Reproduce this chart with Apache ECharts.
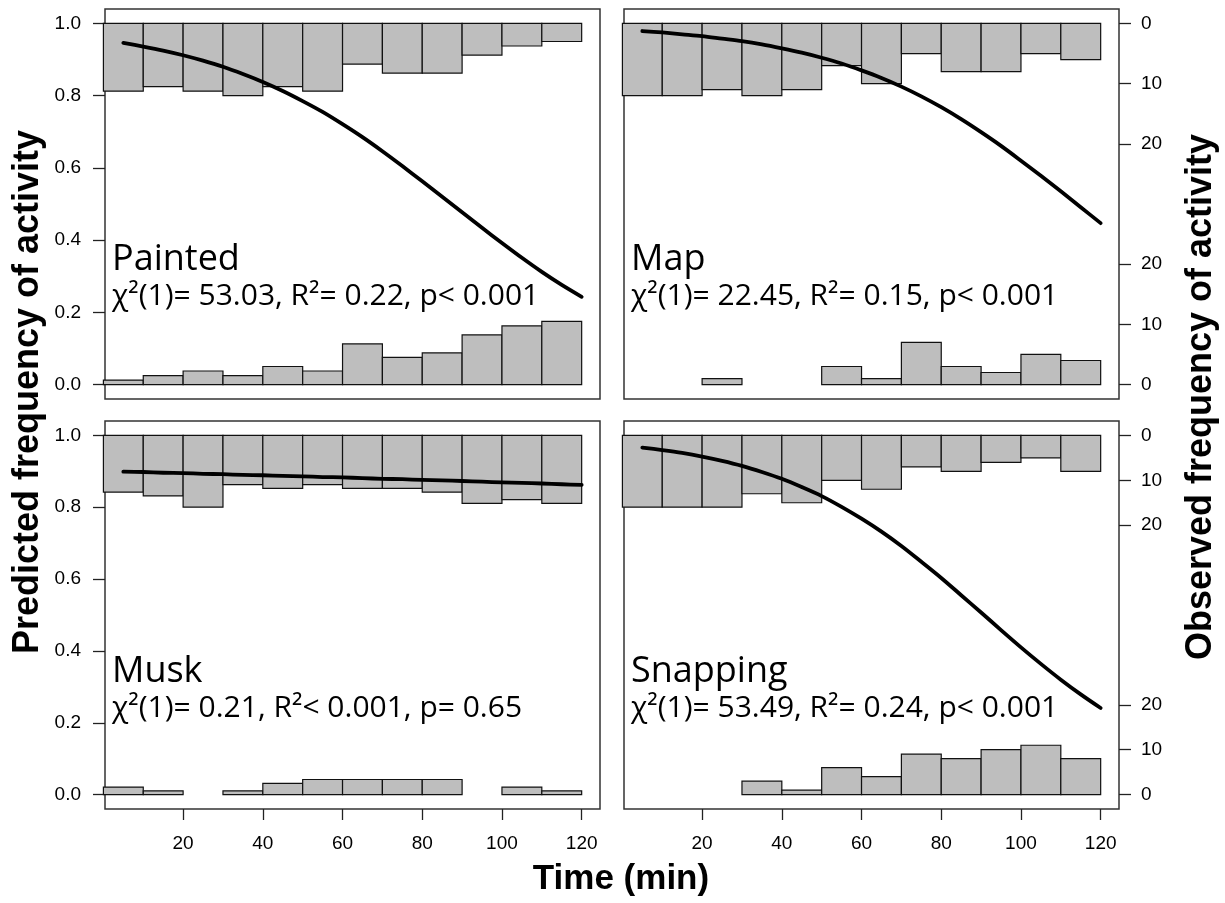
<!DOCTYPE html>
<html><head><meta charset="utf-8">
<script src="https://cdn.jsdelivr.net/npm/echarts@6/dist/echarts.min.js"></script>
<style>html,body{margin:0;padding:0;background:#fff}#chart{width:1225px;height:903px}</style>
</head><body><div id="chart"></div>
<script>
// ---------- data ----------
const binEdges = [0, 10, 20, 30, 40, 50, 60, 70, 80, 90, 100, 110, 120];
const curveTimes = [5, 10, 15, 20, 25, 30, 35, 40, 45, 50, 55, 60, 65, 70, 75, 80, 85, 90, 95, 100, 105, 110, 115, 120];
const probTicks = [0, 0.2, 0.4, 0.6, 0.8, 1.0];
const timeTicks = [20, 40, 60, 80, 100, 120];
const countTicks = [0, 10, 20];

const panelNames = ['Painted', 'Map', 'Musk', 'Snapping'];
const panelStats = [
  'χ²(1)= 53.03, R²= 0.22, p< 0.001',
  'χ²(1)= 22.45, R²= 0.15, p< 0.001',
  'χ²(1)= 0.21, R²< 0.001, p= 0.65',
  'χ²(1)= 53.49, R²= 0.24, p< 0.001'
];

// observed counts per 10-min bin: active (hanging from 1.0) and inactive (rising from 0.0)
const paintedActive   = [15, 14, 15, 16, 14, 15, 9, 11, 11, 7, 5, 4];
const paintedInactive = [1, 2, 3, 2, 4, 3, 9, 6, 7, 11, 13, 14];
const mapActive       = [12, 12, 11, 12, 11, 7, 10, 5, 8, 8, 5, 6];
const mapInactive     = [0, 0, 1, 0, 0, 3, 1, 7, 3, 2, 5, 4];
const muskActive      = [15, 16, 19, 13, 14, 13, 14, 14, 15, 18, 17, 18];
const muskInactive    = [2, 1, 0, 1, 3, 4, 4, 4, 4, 0, 2, 1];
const snappingActive  = [16, 16, 16, 13, 15, 10, 12, 7, 8, 6, 5, 8];
const snappingInactive= [0, 0, 0, 3, 1, 6, 4, 9, 8, 10, 11, 8];

// predicted frequency of activity
const paintedPred  = [0.946, 0.936, 0.925, 0.912, 0.897, 0.880, 0.860, 0.838, 0.813, 0.785, 0.755, 0.721, 0.685, 0.646, 0.605, 0.563, 0.520, 0.477, 0.434, 0.392, 0.351, 0.312, 0.276, 0.243];
const mapPred      = [0.979, 0.975, 0.970, 0.965, 0.958, 0.951, 0.942, 0.931, 0.919, 0.905, 0.889, 0.870, 0.849, 0.825, 0.798, 0.768, 0.735, 0.699, 0.661, 0.620, 0.578, 0.535, 0.491, 0.447];
const muskPred     = [0.899, 0.898, 0.896, 0.895, 0.893, 0.892, 0.890, 0.889, 0.887, 0.886, 0.884, 0.883, 0.881, 0.879, 0.878, 0.876, 0.875, 0.873, 0.871, 0.869, 0.868, 0.866, 0.864, 0.862];
const snappingPred = [0.966, 0.959, 0.951, 0.941, 0.929, 0.915, 0.898, 0.879, 0.856, 0.831, 0.801, 0.768, 0.732, 0.692, 0.648, 0.603, 0.555, 0.507, 0.458, 0.410, 0.364, 0.320, 0.279, 0.241];

// ---------- layout / style ----------
const panels = [
  { left: 105, top: 9,   width: 495, height: 390, active: paintedActive,  inactive: paintedInactive,  pred: paintedPred,  leftAxis: true,  rightAxis: false, bottomAxis: false },
  { left: 624, top: 9,   width: 495, height: 390, active: mapActive,      inactive: mapInactive,      pred: mapPred,      leftAxis: false, rightAxis: true,  bottomAxis: false },
  { left: 105, top: 421, width: 495, height: 388, active: muskActive,     inactive: muskInactive,     pred: muskPred,     leftAxis: true,  rightAxis: false, bottomAxis: true },
  { left: 624, top: 421, width: 495, height: 388, active: snappingActive, inactive: snappingInactive, pred: snappingPred, leftAxis: false, rightAxis: true,  bottomAxis: true }
];
const SCALE_HIST = 5;
const PAD = 0.04;
const FONT_AXIS = "'Liberation Sans', Arial, sans-serif";
const FONT_TXT = "'Open Sans', 'Noto Sans', sans-serif";

const grid = [], xAxis = [], yAxis = [], series = [], graphic = [];

function histSeries(xi, yi, counts) {
  return {
    type: 'custom', xAxisIndex: xi, yAxisIndex: yi, clip: false, silent: true, z: 2,
    data: counts.map((c, j) => [binEdges[j], binEdges[j + 1], c]),
    encode: { x: [0, 1], y: 2 },
    renderItem: function (params, api) {
      const c = api.value(2);
      if (!(c > 0)) return { type: 'group', children: [] };
      const a = api.coord([api.value(0), 0]);
      const b = api.coord([api.value(1), c]);
      return {
        type: 'rect',
        shape: { x: Math.min(a[0], b[0]), y: Math.min(a[1], b[1]), width: Math.abs(b[0] - a[0]), height: Math.abs(b[1] - a[1]) },
        style: { fill: '#bebebe', stroke: '#111', lineWidth: 1.2 }
      };
    }
  };
}

panels.forEach((p, i) => {
  grid.push({ left: p.left, top: p.top, width: p.width, height: p.height, show: true, borderColor: '#333', borderWidth: 1.5, backgroundColor: 'transparent' });
  xAxis.push({
    type: 'value', gridIndex: i, min: 0.4, max: 124.6, position: 'bottom', show: p.bottomAxis,
    axisLine: { show: false, onZero: false }, splitLine: { show: false },
    axisTick: { show: true, customValues: timeTicks, length: 11, lineStyle: { color: '#222', width: 1.3 } },
    axisLabel: { show: true, customValues: timeTicks, margin: 25, fontSize: 19, color: '#000', fontFamily: FONT_AXIS }
  });
  const tope = Math.max(...p.active, ...p.inactive);
  const cmin = -PAD * tope * SCALE_HIST, cmax = (1 + PAD) * tope * SCALE_HIST;
  const probIdx = yAxis.length;
  yAxis.push({
    type: 'value', gridIndex: i, min: -PAD, max: 1 + PAD, position: 'left', show: p.leftAxis,
    axisLine: { show: false, onZero: false }, splitLine: { show: false },
    axisTick: { show: true, customValues: probTicks, length: 12, lineStyle: { color: '#222', width: 1.3 } },
    axisLabel: { show: true, customValues: probTicks, margin: 24, fontSize: 19, color: '#000', fontFamily: FONT_AXIS, formatter: v => v.toFixed(1) }
  });
  const actIdx = yAxis.length;
  yAxis.push({
    type: 'value', gridIndex: i, min: cmin, max: cmax, inverse: true, position: 'right', show: p.rightAxis,
    axisLine: { show: false, onZero: false }, splitLine: { show: false },
    axisTick: { show: true, customValues: countTicks, length: 12, lineStyle: { color: '#222', width: 1.3 } },
    axisLabel: { show: true, customValues: countTicks, margin: 22, fontSize: 19, color: '#000', fontFamily: FONT_AXIS }
  });
  const inactIdx = yAxis.length;
  yAxis.push({
    type: 'value', gridIndex: i, min: cmin, max: cmax, position: 'right', show: p.rightAxis,
    axisLine: { show: false, onZero: false }, splitLine: { show: false },
    axisTick: { show: true, customValues: countTicks, length: 12, lineStyle: { color: '#222', width: 1.3 } },
    axisLabel: { show: true, customValues: countTicks, margin: 22, fontSize: 19, color: '#000', fontFamily: FONT_AXIS }
  });
  series.push(histSeries(i, actIdx, p.active));
  series.push(histSeries(i, inactIdx, p.inactive));
  series.push({
    type: 'line', xAxisIndex: i, yAxisIndex: probIdx, z: 5, silent: true,
    data: curveTimes.map((t, j) => [t, p.pred[j]]),
    showSymbol: false, smooth: 0.3,
    lineStyle: { color: '#000', width: 3.8, cap: 'round', join: 'round' }
  });
  graphic.push({ type: 'text', x: p.left + 7, y: p.top + 251, style: { text: panelNames[i], fill: '#000', font: '36px ' + FONT_TXT, textAlign: 'left', textVerticalAlign: 'middle' }, z: 10 });
  graphic.push({ type: 'text', x: p.left + 7, y: p.top + 287, style: { text: panelStats[i], fill: '#000', font: '30px ' + FONT_TXT, textAlign: 'left', textVerticalAlign: 'middle' }, z: 10 });
});

graphic.push({ type: 'text', x: 28, y: 392, rotation: Math.PI / 2, style: { text: 'Predicted frequency of activity', fill: '#000', font: 'bold 36px ' + FONT_AXIS, textAlign: 'center', textVerticalAlign: 'middle' } });
graphic.push({ type: 'text', x: 1201, y: 397, rotation: Math.PI / 2, style: { text: 'Observed frequency of activity', fill: '#000', font: 'bold 36px ' + FONT_AXIS, textAlign: 'center', textVerticalAlign: 'middle' } });
graphic.push({ type: 'text', x: 621, y: 879, style: { text: 'Time (min)', fill: '#000', font: 'bold 35px ' + FONT_AXIS, textAlign: 'center', textVerticalAlign: 'middle' } });

const chart = echarts.init(document.getElementById('chart'), null, { renderer: 'canvas' });
chart.setOption({ animation: false, backgroundColor: '#fff', grid, xAxis, yAxis, series, graphic });
</script>
</body></html>
